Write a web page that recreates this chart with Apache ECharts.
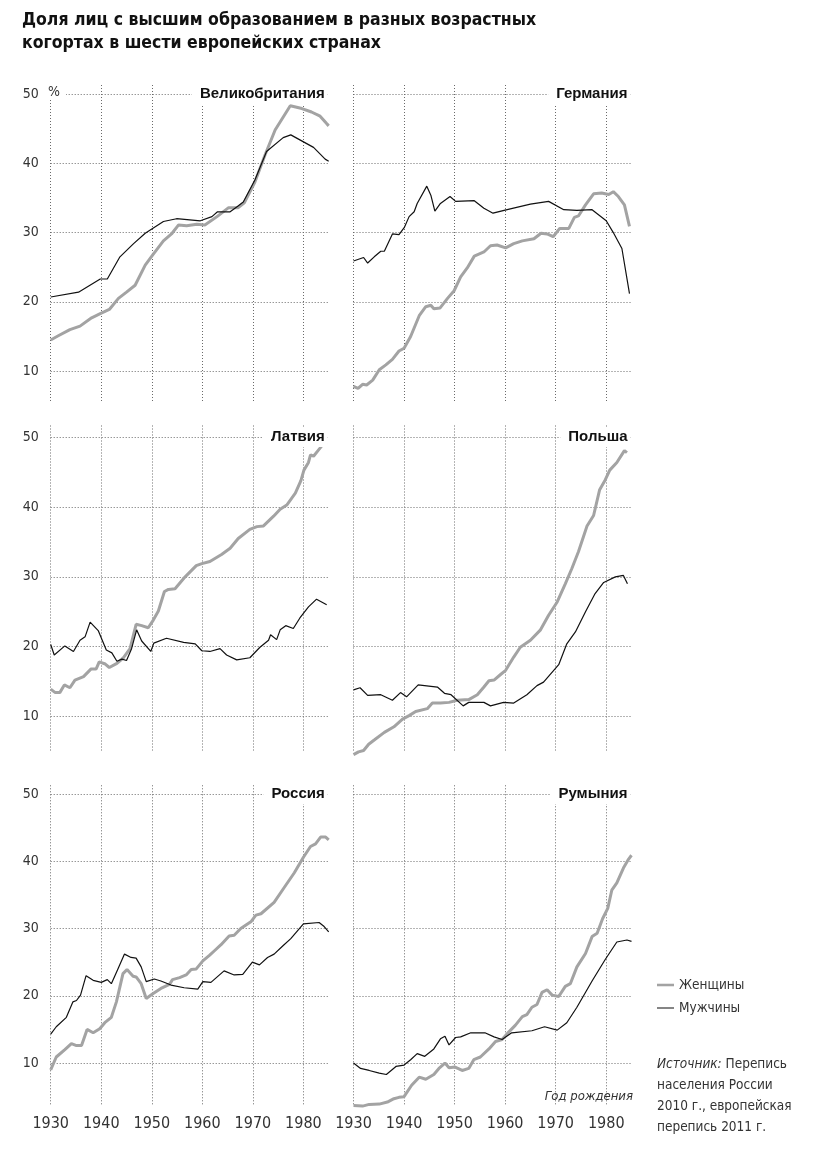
<!DOCTYPE html>
<html><head><meta charset="utf-8">
<script src="https://cdn.jsdelivr.net/npm/echarts@6/dist/echarts.min.js"></script>
<style>html,body{margin:0;padding:0;background:#fff}#c{width:818px;height:1155px}</style>
</head><body><div id="c"></div>
<script>
// ---------- DATA ----------
const countries = ['Великобритания', 'Германия', 'Латвия', 'Польша', 'Россия', 'Румыния'];
const seriesNames = ['Женщины', 'Мужчины'];
const xTicks = [1930, 1940, 1950, 1960, 1970, 1980];
const yTicks = [10, 20, 30, 40, 50];
const mainTitle = 'Доля лиц с высшим образованием в разных возрастных\nкогортах в шести европейских странах';
const sourceText = ['Источник:', ' Перепись', 'населения России', '2010 г., европейская', 'перепись 2011 г.'];
const xName = 'Год рождения';
const unitLabel = '%';

const ukWomen = [[1930,14.5],[1931.5,15.1],[1933.8,16.0],[1935.8,16.5],[1938.1,17.7],[1939.8,18.3],[1941.6,18.9],[1943.4,20.5],[1945,21.4],[1946.7,22.4],[1948.7,25.3],[1950.3,26.9],[1952.3,28.8],[1953.9,29.8],[1955.3,31.1],[1956.9,31.0],[1958.9,31.2],[1960.5,31.1],[1962.9,32.3],[1965.2,33.6],[1967.1,33.6],[1968.3,34.3],[1970.4,37.3],[1972.4,41.2],[1974.4,44.8],[1977.4,48.3],[1979.7,47.9],[1981.6,47.4],[1983.3,46.8],[1984.5,45.8],[1985,45.4]];
const ukMen = [[1930,20.7],[1935.5,21.4],[1939.8,23.3],[1941.2,23.3],[1943.7,26.5],[1946.4,28.4],[1948.7,29.9],[1952.3,31.6],[1954.9,32.0],[1959.6,31.7],[1961.9,32.3],[1963,33.0],[1965.5,33.0],[1966.8,33.7],[1968.1,34.4],[1970.4,37.6],[1972.7,41.7],[1976,43.7],[1977.5,44.1],[1982,42.3],[1984.3,40.6],[1985,40.3]];
const deWomen = [[1930,7.8],[1930.9,7.5],[1931.8,8.1],[1932.6,8.0],[1933.8,8.7],[1935.1,10.2],[1936.4,10.9],[1937.7,11.7],[1939,12.9],[1940,13.3],[1941.3,15.0],[1943,18.0],[1944.3,19.3],[1945.3,19.5],[1945.9,19.0],[1947.1,19.1],[1948.6,20.5],[1949.9,21.6],[1951.2,23.6],[1952.5,24.9],[1953.9,26.6],[1955.8,27.2],[1957.1,28.1],[1958.4,28.2],[1960.1,27.8],[1961.7,28.4],[1963.4,28.8],[1965.7,29.1],[1967.1,29.9],[1968.3,29.8],[1969.5,29.4],[1970.8,30.6],[1972.6,30.6],[1973.7,32.2],[1974.5,32.4],[1975.9,34.0],[1977.5,35.6],[1979.1,35.7],[1980.5,35.5],[1981.4,35.9],[1982.4,35.2],[1983.6,34.0],[1984.6,30.9]];
const deMen = [[1930,25.9],[1932,26.4],[1932.8,25.6],[1934.1,26.5],[1935.4,27.3],[1936.1,27.3],[1937.7,29.8],[1939,29.7],[1940.1,30.8],[1941,32.3],[1942,33.0],[1942.6,34.2],[1944.5,36.7],[1945.3,35.4],[1946.1,33.1],[1947.2,34.2],[1949.1,35.2],[1950.2,34.5],[1953.9,34.6],[1955.8,33.5],[1957.6,32.8],[1960.4,33.3],[1965,34.1],[1968.6,34.5],[1971.6,33.3],[1974.2,33.2],[1977.2,33.3],[1980,31.7],[1981.4,30.0],[1983.1,27.7],[1984.6,21.2]];
const lvWomen = [[1930,13.9],[1930.9,13.4],[1931.8,13.4],[1932.7,14.5],[1933.8,14.1],[1934.8,15.2],[1936.5,15.7],[1938,16.8],[1939,16.8],[1939.6,17.8],[1940.8,17.5],[1941.6,17.0],[1943.1,17.6],[1944.4,18.4],[1945.7,19.7],[1946.9,23.2],[1948,23.0],[1949.3,22.7],[1950.3,23.8],[1951.3,25.1],[1952.5,27.9],[1953.3,28.2],[1954.6,28.3],[1956.6,30.0],[1958.8,31.6],[1959.9,31.9],[1961.5,32.2],[1963.8,33.2],[1965.5,34.1],[1967.1,35.5],[1969.4,36.8],[1970.8,37.2],[1972.1,37.3],[1974.1,38.7],[1975.4,39.7],[1976.7,40.3],[1978.4,42.0],[1979.5,43.8],[1980.1,45.3],[1981,46.4],[1981.4,47.5],[1982,47.3],[1983,48.2],[1984,49.1],[1984.6,48.9]];
const lvMen = [[1930,20.3],[1930.7,18.8],[1932.8,20.1],[1934.5,19.3],[1935.8,20.9],[1936.8,21.4],[1937.8,23.5],[1939.4,22.3],[1941,19.5],[1942.1,19.1],[1943.1,17.9],[1944.1,18.2],[1945,18.0],[1946,19.7],[1947,22.4],[1948,20.8],[1949.8,19.3],[1950.4,20.5],[1952.9,21.2],[1956.3,20.6],[1958.6,20.4],[1959.9,19.4],[1961.5,19.3],[1963.5,19.7],[1964.8,18.8],[1966.8,18.1],[1969.4,18.4],[1971.4,19.9],[1973.1,20.9],[1973.5,21.7],[1974.7,21.0],[1975.4,22.4],[1976.5,23.0],[1978,22.6],[1979.3,24.1],[1981,25.7],[1982.6,26.8],[1984.6,26.0]];
const plWomen = [[1930,4.5],[1931,4.9],[1932,5.1],[1933,6.0],[1934.1,6.6],[1936.1,7.7],[1938,8.5],[1939.7,9.6],[1941,10.1],[1942.3,10.7],[1944.6,11.1],[1945.6,11.9],[1947.2,11.9],[1948.9,12.0],[1950.5,12.3],[1952.8,12.4],[1954.5,13.1],[1955.8,14.2],[1956.8,15.1],[1957.8,15.2],[1959.1,16.0],[1960.1,16.6],[1961.7,18.5],[1963,19.9],[1965,20.9],[1967,22.4],[1968.6,24.5],[1970.3,26.4],[1971.9,29.0],[1973.2,31.2],[1974.5,33.6],[1976.2,37.3],[1977.5,38.8],[1978.7,42.5],[1979.8,43.9],[1980.7,45.3],[1982.1,46.4],[1983.6,48.1],[1984.1,47.8]];
const plMen = [[1930,13.8],[1931.3,14.1],[1932.8,13.0],[1935.4,13.1],[1937.7,12.3],[1939.3,13.4],[1940.5,12.8],[1942.8,14.5],[1946.6,14.2],[1948,13.3],[1949.3,13.1],[1951.7,11.5],[1952.8,12.0],[1955.8,12.0],[1957.1,11.5],[1959.7,12.0],[1961.7,11.9],[1964.3,13.1],[1966.3,14.4],[1967.6,14.9],[1970.6,17.4],[1972.2,20.4],[1973.9,22.1],[1975.9,25.0],[1977.8,27.6],[1979.5,29.2],[1981.8,30.0],[1983.4,30.2],[1984.2,29.0]];
const ruWomen = [[1930,9.0],[1931.1,10.9],[1932.8,12.0],[1934.1,12.9],[1935.1,12.6],[1936.1,12.6],[1937.2,15.0],[1938.4,14.5],[1939.7,15.1],[1940.7,16.0],[1942,16.8],[1943,19.1],[1944.3,23.3],[1945.1,23.9],[1946.3,22.9],[1946.9,22.8],[1947.9,21.8],[1948.9,19.6],[1950.2,20.3],[1951.8,21.1],[1953.5,21.7],[1954.1,22.4],[1955.5,22.7],[1956.8,23.1],[1957.8,23.9],[1958.8,24.0],[1960.1,25.2],[1961.4,26.0],[1962.4,26.7],[1963.7,27.6],[1965.3,28.9],[1966.3,29.0],[1967.6,30.0],[1969.6,31.0],[1970.6,32.0],[1971.6,32.2],[1974.2,33.9],[1976.2,36.1],[1978.2,38.3],[1980,40.6],[1981.4,42.2],[1982.4,42.6],[1983.4,43.6],[1984.4,43.6],[1985,43.2]];
const ruMen = [[1930,14.3],[1931.1,15.4],[1933.1,16.8],[1934.4,19.1],[1935.1,19.3],[1935.9,20.1],[1937,23.0],[1938.4,22.3],[1940,22.0],[1941.2,22.4],[1942,21.8],[1943.3,24.0],[1944.6,26.2],[1945.9,25.7],[1946.9,25.6],[1947.9,24.3],[1948.9,22.1],[1950.5,22.5],[1951.8,22.2],[1953.8,21.6],[1956.4,21.2],[1959.1,21.0],[1960.1,22.1],[1961.7,22.0],[1964.3,23.7],[1966.3,23.1],[1968,23.2],[1969.9,25.0],[1971.3,24.6],[1972.9,25.7],[1974.2,26.2],[1975.9,27.4],[1977.5,28.5],[1980,30.7],[1983.1,30.9],[1984.1,30.3],[1985,29.5]];
const roWomen = [[1930,3.7],[1931.8,3.6],[1933.1,3.85],[1935.1,3.9],[1936.7,4.2],[1938,4.7],[1939,4.9],[1940,5.0],[1941.5,6.7],[1943,7.9],[1944.3,7.6],[1945.9,8.3],[1946.9,9.2],[1948.1,10.0],[1948.9,9.3],[1950.1,9.4],[1951.5,8.9],[1952.8,9.2],[1953.8,10.5],[1955.1,10.9],[1956.8,12.1],[1958.1,13.2],[1959.4,13.5],[1960.7,14.6],[1962,15.6],[1963.4,16.9],[1964.3,17.2],[1965.3,18.3],[1966.3,18.7],[1967.3,20.5],[1968.3,20.9],[1969.3,20.1],[1970.6,19.9],[1971.9,21.4],[1972.9,21.8],[1974.2,24.3],[1975.9,26.3],[1977.2,28.8],[1978.2,29.3],[1979.3,31.5],[1980.3,33.0],[1981.1,35.7],[1982.1,36.8],[1983.4,39.0],[1984.4,40.3],[1985,40.9]];
const roMen = [[1930,10.0],[1931.4,9.2],[1933.1,8.9],[1935.1,8.5],[1936.5,8.3],[1938.4,9.5],[1940,9.7],[1941.3,10.5],[1942.6,11.4],[1944.1,11.0],[1945.9,12.1],[1947.2,13.6],[1948.1,14.0],[1948.9,12.7],[1950.2,13.8],[1951.2,13.9],[1953.2,14.5],[1956,14.5],[1957.8,13.9],[1959.4,13.5],[1961.3,14.5],[1965.3,14.8],[1967.8,15.4],[1970.3,14.9],[1972.2,16.0],[1974.2,18.3],[1977.2,22.2],[1979.8,25.4],[1982.1,28.0],[1984.1,28.3],[1985,28.1]];

const womenData = [ukWomen, deWomen, lvWomen, plWomen, ruWomen, roWomen];
const menData = [ukMen, deMen, lvMen, plMen, ruMen, roMen];

// ---------- LAYOUT ----------
const FF = '"Liberation Sans Narrow","Arial Narrow","DejaVu Sans Condensed",sans-serif';
const W = 818;
const colLeft = [50.7, 353.5];
const gridW = 278;
const rows = [
  {top: 85, height: 318, min: 5.4, max: 51.3, y50: 94},
  {top: 425.5, height: 325.7, min: 5.0, max: 51.7, y50: 437},
  {top: 785.3, height: 320.8, min: 3.6, max: 51.3, y50: 794}
];
const gridLine = {show: true, lineStyle: {color: '#6a6a6a', width: 1, type: [1, 2]}};
const womenColor = '#a3a3a3', menColor = '#111';

const grids = [], xAxes = [], yAxes = [], series = [], titles = [];
titles.push({text: mainTitle, left: 17, top: 4,
  textStyle: {fontFamily: FF, fontWeight: 'bold', fontSize: 17.5, lineHeight: 23, color: '#111'}});

countries.forEach((name, i) => {
  const r = rows[Math.floor(i / 2)], c = i % 2;
  const left = colLeft[c];
  grids.push({left: left, top: r.top, width: gridW, height: r.height});
  const bottomRow = Math.floor(i / 2) === 2;
  xAxes.push({type: 'value', gridIndex: i, min: 1930, max: 1985,
    axisLine: {show: false},
    axisTick: {show: false, customValues: xTicks},
    axisLabel: {show: bottomRow, customValues: xTicks, formatter: v => String(v), margin: 10,
      fontFamily: FF, fontSize: 16, color: '#333'},
    splitLine: gridLine});
  yAxes.push({type: 'value', gridIndex: i, min: r.min, max: r.max,
    axisLine: {show: false},
    axisTick: {show: false, customValues: yTicks},
    axisLabel: {show: c === 0, customValues: yTicks, formatter: v => String(v), margin: 12,
      fontFamily: FF, fontSize: 14, color: '#333'},
    splitLine: gridLine});
  series.push({name: seriesNames[0], type: 'line', xAxisIndex: i, yAxisIndex: i, data: womenData[i],
    symbol: 'none', clip: false, lineStyle: {color: womenColor, width: 3}, itemStyle: {color: womenColor}, z: 2});
  series.push({name: seriesNames[1], type: 'line', xAxisIndex: i, yAxisIndex: i, data: menData[i],
    symbol: 'none', clip: false, lineStyle: {color: menColor, width: 1.2}, itemStyle: {color: menColor}, z: 3});
  titles.push({text: name, right: W - (left + gridW) + 1, top: r.y50 - 10,
    backgroundColor: '#fff', padding: [2, 3, 2, 8],
    textStyle: {fontFamily: '"Liberation Sans",Arial,sans-serif', fontWeight: 'bold', fontSize: 15, lineHeight: 16, color: '#111'}});
});

const option = {
  animation: false,
  backgroundColor: '#fff',
  title: titles,
  grid: grids,
  xAxis: xAxes,
  yAxis: yAxes,
  series: series,
  legend: {
    data: [
      {name: seriesNames[0], icon: 'path://M0,0H20V3H0Z', itemStyle: {color: womenColor}},
      {name: seriesNames[1], icon: 'path://M0,0H20V1.2H0Z', itemStyle: {color: menColor}}
    ],
    orient: 'vertical', left: 652, top: 973,
    itemWidth: 17, itemHeight: 12, itemGap: 9,
    textStyle: {fontFamily: FF, fontSize: 13.5, color: '#333'}},
  graphic: [
    {type: 'text', x: 47, y: 92, z: 100,
      style: {text: unitLabel, fontFamily: FF, fontSize: 14, fill: '#333', verticalAlign: 'middle',
        backgroundColor: '#fff', padding: [0, 6, 0, 1]}},
    {type: 'text', x: 633, y: 1097, z: 100,
      style: {text: xName, fontFamily: FF, fontSize: 13, fontStyle: 'italic', fill: '#333', align: 'right', verticalAlign: 'middle'}},
    {type: 'text', x: 657, y: 1054, z: 100,
      style: {text: '{i|' + sourceText[0] + '}' + sourceText[1] + '\n' + sourceText.slice(2).join('\n'),
        fontFamily: FF, fontSize: 13.5, lineHeight: 21, fill: '#333',
        rich: {i: {fontFamily: FF, fontSize: 13.5, fontStyle: 'italic', fill: '#333', lineHeight: 21}}}}
  ]
};
echarts.init(document.getElementById('c'), null, {renderer: 'canvas'}).setOption(option);
</script></body></html>
